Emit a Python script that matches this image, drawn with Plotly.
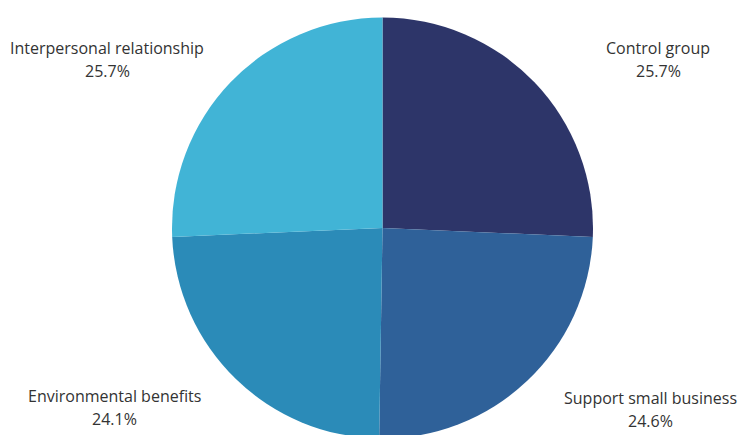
import plotly.graph_objects as go

labels = ["Control group", "Support small business", "Environmental benefits", "Interpersonal relationship"]
values = [25.7, 24.6, 24.1, 25.7]
colors = ["#2d3569", "#2f6199", "#2b8bb8", "#41b4d6"]

W, H = 740, 440

# label anchor centres (pixels from top-left) for name line and value line
label_pos = {
    "Control group": (658, 48, 71),
    "Support small business": (650, 398, 421),
    "Environmental benefits": (114, 396, 419),
    "Interpersonal relationship": (107, 48, 71),
}

fig = go.Figure(go.Pie(
    labels=labels,
    values=values,
    sort=False,
    direction="clockwise",
    rotation=0,
    marker=dict(colors=colors, line=dict(width=0)),
    textinfo="none",
    hoverinfo="label+percent",
    showlegend=False,
    domain=dict(x=[172 / W, 593 / W], y=[(H - 438.5) / H, (H - 17.5) / H]),
))

annotations = []
font = dict(family="Open Sans", size=16, color="#333333")
for lab, val in zip(labels, values):
    cx, y1, y2 = label_pos[lab]
    annotations.append(dict(text=lab, x=cx / W, y=1 - y1 / H, xref="paper", yref="paper",
                            xanchor="center", yanchor="middle", showarrow=False, font=font))
    annotations.append(dict(text=f"{val:.1f}%", x=cx / W, y=1 - y2 / H, xref="paper", yref="paper",
                            xanchor="center", yanchor="middle", showarrow=False, font=font))

fig.update_layout(
    width=W, height=H,
    margin=dict(l=0, r=0, t=0, b=0),
    paper_bgcolor="white",
    plot_bgcolor="white",
    annotations=annotations,
)

fig.write_html("out.html",
               post_script="document.documentElement.style.overflow='hidden';document.body.style.overflow='hidden';")
